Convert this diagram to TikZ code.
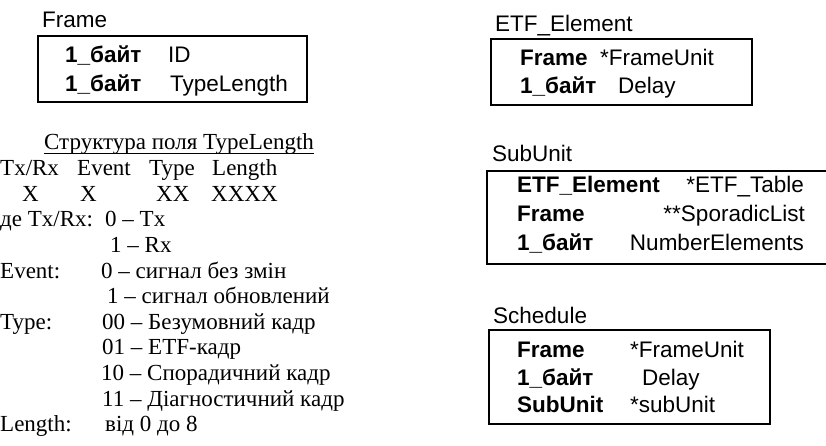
\documentclass[tikz,border=0pt]{standalone}
\usepackage{fontspec}
\setmainfont{Liberation Serif}
\setsansfont{Liberation Sans}
\begin{document}
\begin{tikzpicture}[x=1pt,y=-1pt,
  sf/.style={font=\sffamily\fontsize{22.5}{27}\selectfont, anchor=base west, inner sep=0pt},
  sfb/.style={font=\sffamily\bfseries\fontsize{22.5}{27}\selectfont, anchor=base west, inner sep=0pt},
  rm/.style={font=\rmfamily\fontsize{23}{27}\selectfont, anchor=base west, inner sep=0pt},
  boxline/.style={draw=black, line width=1.6pt}]
\useasboundingbox (0,0) rectangle (826,446);
% ---------- Frame ----------
\node[sf] (frT) at (42,28) {Frame};
\draw[boxline] (38,36) rectangle (307,102);
\node[sfb] (fr1a) at (65,63) {1\_байт};
\node[sf]  (fr1b) at (168,63) {ID};
\node[sfb] (fr2a) at (65,92) {1\_байт};
\node[sf]  (fr2b) at (170,92) {TypeLength};
% ---------- TypeLength structure ----------
\node[rm] (ttl) at (44,150) {Структура поля TypeLength};
\draw[line width=1.1pt] ([yshift=-3.5pt]ttl.base west) -- ([yshift=-3.5pt]ttl.base east);
\node[rm] (h1) at (0,175.6) {Tx/Rx};
\node[rm] (h2) at (77,175.6) {Event};
\node[rm] (h3) at (149,175.6) {Type};
\node[rm] (h4) at (212,175.6) {Length};
\node[rm] (x1) at (22,201.2) {X};
\node[rm] (x2) at (80,201.2) {X};
\node[rm] (x3) at (156,201.2) {XX};
\node[rm] (x4) at (211,201.2) {XXXX};
\node[rm] (d1) at (0,226.8) {де Tx/Rx:};
\node[rm] (d1b) at (105,226.8) {0 – Tx};
\node[rm] (d2) at (110,252.4) {1 – Rx};
\node[rm] (e0) at (0,278) {Event:};
\node[rm] (e1) at (101,278) {0 – сигнал без змін};
\node[rm] (e2) at (107,303.6) {1 – сигнал обновлений};
\node[rm] (t0) at (0,329.2) {Type:};
\node[rm] (t1) at (102,329.2) {00 – Безумовний кадр};
\node[rm] (t2) at (102,354.8) {01 – ETF-кадр};
\node[rm] (t3) at (101,380.4) {10 – Спорадичний кадр};
\node[rm] (t4) at (102,406) {11 – Діагностичний кадр};
\node[rm] (l0) at (0,431.6) {Length:};
\node[rm] (l1) at (105,431.6) {від 0 до 8};
% ---------- ETF_Element ----------
\node[sf] (etT) at (495,32) {ETF\_Element};
\draw[boxline] (491,39) rectangle (752,105);
\node[sfb] (et1a) at (520,66) {Frame};
\node[sf]  (et1b) at (600,66) {*FrameUnit};
\node[sfb] (et2a) at (520,94) {1\_байт};
\node[sf]  (et2b) at (618,94) {Delay};
% ---------- SubUnit ----------
\node[sf] (suT) at (492,162) {SubUnit};
\draw[boxline] (828,171) -- (487,171) -- (487,264) -- (828,264);
\node[sfb] (su1a) at (517,193) {ETF\_Element};
\node[sf, anchor=base east] (su1b) at (804,193) {*ETF\_Table};
\node[sfb] (su2a) at (517,222) {Frame};
\node[sf, anchor=base east] (su2b) at (805,222) {**SporadicList};
\node[sfb] (su3a) at (517,251) {1\_байт};
\node[sf, anchor=base east] (su3b) at (804,251) {NumberElements};
% ---------- Schedule ----------
\node[sf] (scT) at (493,323) {Schedule};
\draw[boxline] (489,330) rectangle (770,424);
\node[sfb] (sc1a) at (517,357) {Frame};
\node[sf]  (sc1b) at (630,357) {*FrameUnit};
\node[sfb] (sc2a) at (517,385) {1\_байт};
\node[sf]  (sc2b) at (642,385) {Delay};
\node[sfb] (sc3a) at (517,412) {SubUnit};
\node[sf]  (sc3b) at (630,412) {*subUnit};
\end{tikzpicture}
\end{document}
